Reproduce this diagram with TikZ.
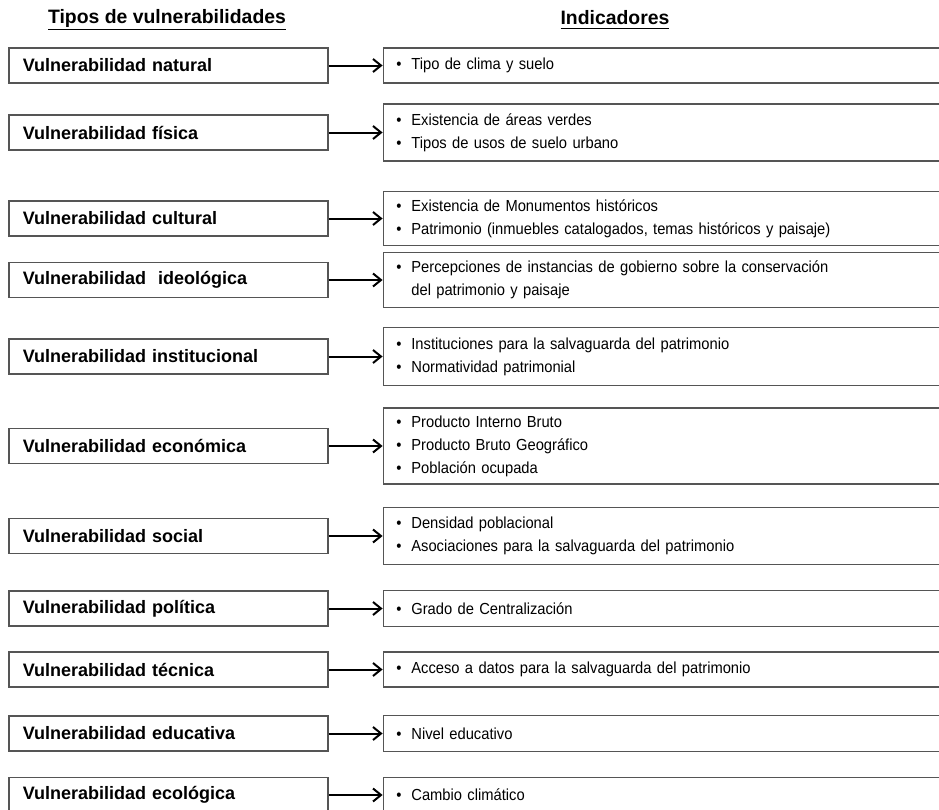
\documentclass[tikz,border=0pt]{standalone}
\usepackage{fontspec}
\setmainfont{Liberation Sans}
\newfontfamily\indfont[FakeStretch=0.92]{Liberation Sans}
\usepackage{tikz}
\usetikzlibrary{positioning,arrows.meta}
\usepackage{xcolor}
\definecolor{boxline}{RGB}{85,85,85}
\newcommand{\bul}{\makebox[7.5pt][l]{\textbullet}}

\begin{document}
\begin{tikzpicture}[
    x=0.5pt, y=-0.5pt,
    >={Straight Barb[length=4pt,width=6.5pt]},
    tipobox/.style={draw=boxline, line width=0.8pt, anchor=west,
        text width=145.5pt, inner xsep=7pt, minimum height=17.5pt,
        align=left, font=\fontsize{9}{10}\selectfont\bfseries},
    indbox/.style={draw=boxline, line width=0.8pt, text width=300pt,
        inner xsep=6.5pt, inner ysep=2pt, align=left,
        font=\indfont\fontsize{8}{11.5}\selectfont},
    titulo/.style={font=\fontsize{9.7}{11}\selectfont\bfseries},
    arr/.style={->, line width=1pt, black},
]
\useasboundingbox (0,0) rectangle (939,810);
\clip (0,0) rectangle (939,810);

% === TITLES ===
\node[titulo] (t1) at (167,20) {\underline{Tipos de vulnerabilidades}};
\node[titulo] (t2) at (615,20) {\underline{Indicadores}};

% Natural
\node[tipobox] (v1) at (8,65.5) {Vulnerabilidad natural};
\node[indbox, minimum height=17.5pt, right=27pt of v1] (i1) {\bul Tipo de clima y suelo};
\draw[arr] (v1) -- (i1);

% Fisica
\node[tipobox] (v2) at (8,132.5) {Vulnerabilidad física};
\node[indbox, minimum height=28.5pt, right=27pt of v2] (i2) {\bul Existencia de áreas verdes\\
    \bul Tipos de usos de suelo urbano};
\draw[arr] (v2) -- (i2);

% Cultural
\node[tipobox] (v3) at (8,218.5) {Vulnerabilidad cultural};
\node[indbox, minimum height=27pt, right=27pt of v3] (i3) {\bul Existencia de Monumentos históricos\\
    \bul Patrimonio (inmuebles catalogados, temas históricos y paisaje)};
\draw[arr] (v3) -- (i3);

% Ideologica
\node[tipobox] (v4) at (8,280) {Vulnerabilidad\ \ ideológica};
\node[indbox, minimum height=27.5pt, right=27pt of v4] (i4) {\bul Percepciones de instancias de gobierno sobre la conservación\\
    \hspace*{7.5pt}del patrimonio y paisaje};
\draw[arr] (v4) -- (i4);

% Institucional
\node[tipobox] (v5) at (8,356.5) {Vulnerabilidad institucional};
\node[indbox, minimum height=29pt, right=27pt of v5] (i5) {\bul Instituciones para la salvaguarda del patrimonio\\
    \bul Normatividad patrimonial};
\draw[arr] (v5) -- (i5);

% Economica
\node[tipobox] (v6) at (8,446) {Vulnerabilidad económica};
\node[indbox, minimum height=38pt, right=27pt of v6] (i6) {\bul Producto Interno Bruto\\
    \bul Producto Bruto Geográfico\\
    \bul Población ocupada};
\draw[arr] (v6) -- (i6);

% Social
\node[tipobox] (v7) at (8,536) {Vulnerabilidad social};
\node[indbox, minimum height=28.5pt, right=27pt of v7] (i7) {\bul Densidad poblacional\\
    \bul Asociaciones para la salvaguarda del patrimonio};
\draw[arr] (v7) -- (i7);

% Politica
\node[tipobox] (v8) at (8,608.5) {Vulnerabilidad política};
\node[indbox, minimum height=18pt, right=27pt of v8] (i8) {\bul Grado de Centralización};
\draw[arr] (v8) -- (i8);

% Tecnica
\node[tipobox] (v9) at (8,669.5) {Vulnerabilidad técnica};
\node[indbox, minimum height=17.5pt, right=27pt of v9] (i9) {\bul Acceso a datos para la salvaguarda del patrimonio};
\draw[arr] (v9) -- (i9);

% Educativa
\node[tipobox] (v10) at (8,733.5) {Vulnerabilidad educativa};
\node[indbox, minimum height=18pt, right=27pt of v10] (i10) {\bul Nivel educativo};
\draw[arr] (v10) -- (i10);

% Ecologica
\node[tipobox] (v11) at (8,795) {Vulnerabilidad ecológica};
\node[indbox, minimum height=17.5pt, right=27pt of v11] (i11) {\bul Cambio climático};
\draw[arr] (v11) -- (i11);

\end{tikzpicture}
\end{document}
